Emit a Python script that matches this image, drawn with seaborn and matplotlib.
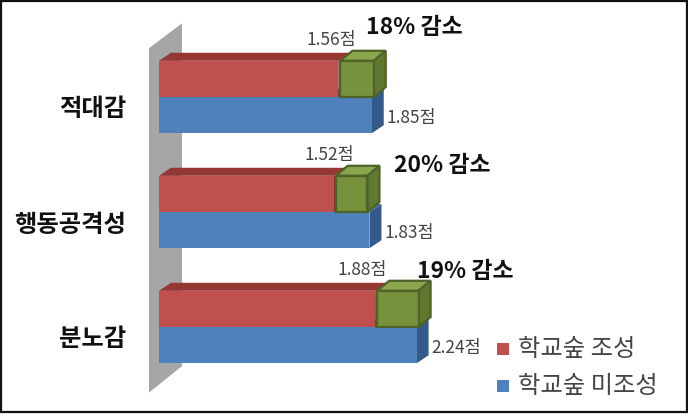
import matplotlib
matplotlib.use("Agg")
import matplotlib.pyplot as plt
from matplotlib.patches import Polygon, Rectangle
import pandas as pd
import seaborn as sns

categories = ["적대감", "행동공격성", "분노감"]
series_names = ["학교숲 조성", "학교숲 미조성"]
with_forest = [1.56, 1.52, 1.88]
without_forest = [1.85, 1.83, 2.24]
reductions = ["18% 감소", "20% 감소", "19% 감소"]

W, H = 688, 417
PX = 115.0          # pixels per one score unit
X0, Y0 = 159, 97    # pixel of score 0 and of the first category centre
AX_LEFT = 130
DX, DY = 12 / PX, 8 / PX   # 3d depth of the bars
GREEN_DY = 10 / PX

# label offsets in pixels, the picture places them by hand
top_label_dx = [-7, -4, -13]
green_right_dx = [2, -2, 2]
reduction_off = [(-6, -70), (25, -46), (0, -56)]

colors = {"red": "#c0504d", "red_top": "#953735", "red_side": "#8a3230",
          "blue": "#4f81bd", "blue_top": "#3f6797", "blue_side": "#335a8a",
          "green": "#76923c", "green_top": "#8aa64e", "green_side": "#5f7a2c",
          "green_edge": "#4f6228"}

sns.set_theme(style="white")
plt.rcParams["font.family"] = ["Noto Sans CJK KR", "DejaVu Sans"]

df = pd.DataFrame({
    "category": categories * 2,
    "series": [series_names[0]] * 3 + [series_names[1]] * 3,
    "score": with_forest + without_forest,
})

fig = plt.figure(figsize=(W / 100, H / 100), dpi=100)
ax = fig.add_axes([AX_LEFT / W, 0, 1 - AX_LEFT / W, 1])

sns.barplot(data=df, y="category", x="score", hue="series", orient="h",
            palette=[colors["red"], colors["blue"]], width=0.63, gap=0,
            saturation=1, legend=False, linewidth=0, ax=ax, zorder=5)

ax.set_xlim((AX_LEFT - X0) / PX, (W - X0) / PX)
ax.set_ylim((H - Y0) / PX, -Y0 / PX)
ax.set_xticks([])
ax.set_xlabel("")
ax.set_ylabel("")
# category names sit a little below the centre of each pair of bars
ax.set_yticks([i + 10 / PX for i in range(len(categories))], categories)
ax.tick_params(axis="y", length=0, pad=3)
for lab in ax.get_yticklabels():
    lab.set_fontsize(17.5)
    lab.set_fontweight("bold")
    lab.set_color("#111111")
sns.despine(ax=ax, left=True, bottom=True)
ax.patch.set_alpha(0)


def box_faces(x0, x1, top, bottom, dy, front, top_c, side_c, z, edge=None, lw=0):
    ax.add_patch(Polygon([(x0, top), (x0 + DX, top - dy), (x1 + DX, top - dy), (x1, top)],
                         fc=top_c, ec=edge or "none", lw=lw, zorder=z))
    ax.add_patch(Polygon([(x1, top), (x1 + DX, top - dy), (x1 + DX, bottom - dy), (x1, bottom)],
                         fc=side_c, ec=edge or "none", lw=lw, zorder=z))
    if front is not None:
        ax.add_patch(Rectangle((x0, top), x1 - x0, bottom - top, fc=front,
                               ec=edge or "none", lw=lw, zorder=z))


bars = ax.patches[:6]
red_bars, blue_bars = bars[:3], bars[3:]
for i, (r, b) in enumerate(zip(red_bars, blue_bars)):
    rv, bv = with_forest[i], without_forest[i]
    r_top, r_bot = r.get_y(), r.get_y() + r.get_height()
    b_top, b_bot = b.get_y(), b.get_y() + b.get_height()
    # blue side face goes behind the green box, red top in front of the wall
    box_faces(0, bv, b_top, b_bot, DY, None, colors["blue_top"], colors["blue_side"], 4)
    box_faces(0, rv, r_top, r_bot, DY, None, colors["red_top"], colors["red_side"], 6)
    r.set_zorder(7)
    b.set_zorder(5)
    # green box is the reduction between the two scores
    box_faces(rv + 2 / PX, bv + green_right_dx[i] / PX, r_top, r_bot, GREEN_DY,
              colors["green"], colors["green_top"], colors["green_side"], 8,
              edge=colors["green_edge"], lw=1.6)

    ax.annotate(f"{rv:.2f}점", (rv, r_top), xytext=(top_label_dx[i] * 0.72, 15),
                textcoords="offset points", ha="center", va="center",
                fontsize=12.5, color="#444444", zorder=10)
    ax.annotate(f"{bv:.2f}점", (bv, (b_top + b_bot) / 2), xytext=(15 * 0.72, -2),
                textcoords="offset points", ha="left", va="center",
                fontsize=12.5, color="#444444", zorder=10)
    off = reduction_off[i]
    ax.annotate(reductions[i], (bv, i), xytext=(off[0] * 0.72, -off[1] * 0.72),
                textcoords="offset points", ha="left", va="center",
                fontsize=16.5, fontweight="bold", color="#111111", zorder=10)

# grey wall behind the bars
wall = Polygon([(-10 / PX, -0.425), (23 / PX, -0.64), (23 / PX, 2.34), (-10 / PX, 2.57)],
               fc="#a6a6a6", ec="none", zorder=1)
ax.add_patch(wall)

# legend
for name, c, py in zip(series_names, [colors["red"], colors["blue"]], [349, 386]):
    fig.patches.append(Rectangle((497 / W, 1 - (py + 6) / H), 12 / W, 12 / H, fc=c, ec="none",
                                 transform=fig.transFigure, figure=fig))
    fig.text(518 / W, 1 - py / H, name, fontsize=17.5, color="#444444", va="center", ha="left")

# frame of the picture
fig.patches.append(Rectangle((1 / W, 1 - 412 / H), 685.5 / W, 411 / H, fc="none", ec="#111111", lw=1.6,
                             transform=fig.transFigure, figure=fig))

fig.savefig("out.png", dpi=100)
